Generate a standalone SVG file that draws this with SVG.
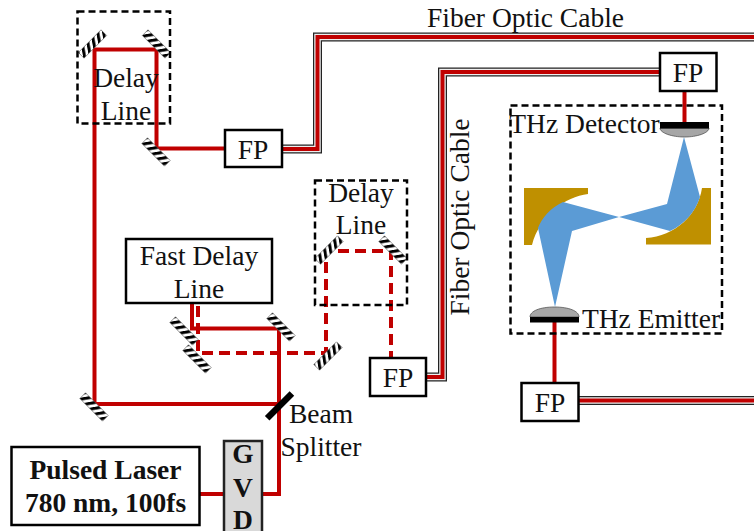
<svg xmlns="http://www.w3.org/2000/svg" width="754" height="531" viewBox="0 0 754 531">
<style>
text{font-family:"Liberation Serif","Times New Roman",serif;font-size:27.500px;fill:#111;text-anchor:middle}
.bold{font-weight:bold}
.beam{fill:none;stroke:#c00000;stroke-width:4;stroke-linejoin:miter}
.dash{stroke-dasharray:11 6}
.dbox{fill:none;stroke:#000;stroke-width:2.500;stroke-dasharray:7 4}
.box{fill:#fff;stroke:#000;stroke-width:2.500}
.f1{fill:none;stroke:#222;stroke-width:9}
.f2{fill:none;stroke:#eee;stroke-width:6.500}
.f3{fill:none;stroke:#c00000;stroke-width:4}
.au{fill:#bf9000}
.blue{fill:#5b9bd5}
.dome{fill:#a6a6a6;stroke:#444;stroke-width:.7}
</style>
<defs>
<pattern id="hatch" width="7" height="8" patternUnits="userSpaceOnUse" patternTransform="skewX(-35)">
<rect width="7" height="8" fill="#fff"/><rect width="3.600" height="8" fill="#000"/>
</pattern>
<g id="mirror"><rect x="-16" y="-4" width="32" height="8" fill="url(#hatch)" stroke="#555" stroke-width=".6"/></g>
</defs>
<g id="connectors">
<path class="f1" d="M282 149H317.500V37H754"/><path class="f2" d="M282 149H317.500V37H754"/><path class="f3" d="M282 149H317.500V37H754"/>
<path class="f1" d="M426 377H442.500V72H660"/><path class="f2" d="M426 377H442.500V72H660"/><path class="f3" d="M426 377H442.500V72H660"/>
<path class="f1" d="M579 400.500H754"/><path class="f2" d="M579 400.500H754"/><path class="f3" d="M579 400.500H754"/>
<path class="beam" d="M200 494H279V328.500H192V303"/>
<path class="beam" d="M279 404H94.500V49.500H156.500V148.500H224"/>
<path class="beam dash" d="M198 306V353H326V251H391V358"/>
<path class="beam" d="M684.500 91V122"/>
<path class="beam" d="M554.500 322V383"/>
</g>
<g id="mirrors">
<use href="#mirror" transform="translate(92.500 44) rotate(-45)"/>
<use href="#mirror" transform="translate(156.500 44) rotate(45)"/>
<use href="#mirror" transform="translate(156 152) rotate(45)"/>
<use href="#mirror" transform="translate(184 331) rotate(45)"/>
<use href="#mirror" transform="translate(281 327) rotate(45)"/>
<use href="#mirror" transform="translate(197 359) rotate(45)"/>
<use href="#mirror" transform="translate(328 356) rotate(-45)"/>
<use href="#mirror" transform="translate(329 250) rotate(-45)"/>
<use href="#mirror" transform="translate(393 250) rotate(45)"/>
<use href="#mirror" transform="translate(94 407) rotate(45)"/>
<rect x="262" y="403" width="35" height="6.500" fill="#000" transform="rotate(-45 279 406)"/>
</g>
<g id="delay-line-1"><rect class="dbox" x="77.500" y="11.500" width="92.500" height="112"/><text x="126" y="87">Delay</text><text x="126" y="120">Line</text></g>
<g id="delay-line-2"><rect class="dbox" x="315" y="180.500" width="92" height="124.500"/><text x="361" y="202">Delay</text><text x="361" y="234">Line</text></g>
<g id="fast-delay-line"><rect class="box" x="126" y="239" width="146" height="64"/><text x="199" y="265">Fast Delay</text><text x="199" y="298">Line</text></g>
<g id="fp-1"><rect class="box" x="225" y="130" width="57" height="37"/><text x="253" y="158.500">FP</text></g>
<g id="fp-2"><rect class="box" x="370" y="358" width="56" height="38"/><text x="398" y="387">FP</text></g>
<g id="fp-3"><rect class="box" x="660" y="53" width="56.500" height="38"/><text x="688" y="81.500">FP</text></g>
<g id="fp-4"><rect class="box" x="521.500" y="383" width="57" height="38"/><text x="550" y="412">FP</text></g>
<g id="laser"><rect class="box" x="11.500" y="447" width="188" height="78"/><text class="bold" x="105.500" y="479">Pulsed Laser</text><text class="bold" x="105.500" y="512">780 nm, 100fs</text></g>
<g id="gvd"><rect x="224" y="441" width="38" height="95" fill="#d9d9d9" stroke="#222" stroke-width="2.500"/><text class="bold" x="243" y="463">G</text><text class="bold" x="243" y="497">V</text><text class="bold" x="243" y="529">D</text></g>
<g id="beam-splitter"><text x="321" y="423">Beam</text><text x="321" y="456">Splitter</text></g>
<g id="thz-box">
<rect class="dbox" x="510.500" y="105.500" width="211.500" height="228"/>
<path class="au" d="M524 188H588V194C565 197 540 215 532 245H524Z"/>
<path class="au" d="M711 188V244.500H646V238C675 236 698 215 702 188Z"/>
<path class="blue" d="M684 137L700 197C695 212 685 224 670 231L619 217L572 231L555 307L538 228C542 218 550 208 563 202L619 217L667 204Z"/>
<path class="dome" d="M660 128H709C709 133 697 137 684.500 137C672 137 660 133 660 128Z"/>
<rect x="660" y="122" width="49" height="6.500" fill="#000"/>
<path class="dome" d="M530 317C530 311 540 307 554.500 307C569 307 579 311 579 317Z"/>
<rect x="530" y="317" width="49" height="5.500" fill="#000"/>
<text x="584.500" y="133">THz Detector</text>
<text x="651" y="328">THz Emitter</text>
</g>
<g id="cable-labels">
<text x="525.500" y="27">Fiber Optic Cable</text>
<text transform="translate(469 217) rotate(-90)">Fiber Optic Cable</text>
</g>
</svg>
